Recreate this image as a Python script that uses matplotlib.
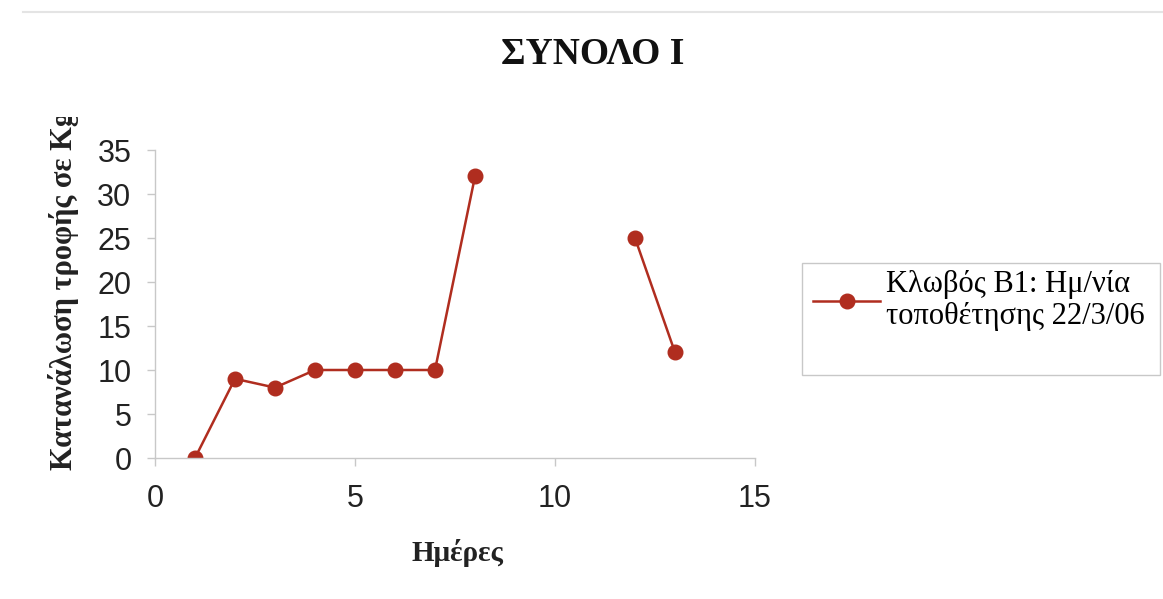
import numpy as np
import matplotlib.pyplot as plt
from matplotlib.lines import Line2D
from matplotlib.patches import Rectangle
from matplotlib.transforms import Bbox

# Daily feed consumption, cage B1 (days 9-11 not recorded)
days = [1, 2, 3, 4, 5, 6, 7, 8, 9, 10, 11, 12, 13]
feed_kg = [0, 9, 8, 10, 10, 10, 10, 32, np.nan, np.nan, np.nan, 25, 12]

series_label = "Κλωβός Β1: Ημ/νία\nτοποθέτησης 22/3/06"
title = "ΣΥΝΟΛΟ Ι"
xlabel = "Ημέρες"
ylabel = "Κατανάλωση τροφής σε Κg"

red = "#b02d1f"
grey = "#c8c8c8"
serif = "Liberation Serif"
sans = "Liberation Sans"

W, H = 1163, 599
fig = plt.figure(figsize=(W / 100, H / 100), dpi=100)
ax = fig.add_axes([155 / W, 1 - 458 / H, 600 / W, 308 / H])

ax.plot(days, feed_kg, color=red, lw=1.8, marker="o", ms=10.5,
        label=series_label)

ax.set_xlim(0, 15)
ax.set_ylim(0, 35)
ax.set_xticks([0, 5, 10, 15])
ax.set_yticks(range(0, 36, 5))
for s in ["top", "right"]:
    ax.spines[s].set_visible(False)
for s in ["left", "bottom"]:
    ax.spines[s].set_color(grey)
    ax.spines[s].set_linewidth(1.0)
ax.tick_params(colors=grey, length=6, width=1.0, labelcolor="#222222")
ax.tick_params(axis="x", pad=13)
ax.tick_params(axis="y", pad=11)
for lab in ax.get_xticklabels() + ax.get_yticklabels():
    lab.set_fontfamily(sans)
    lab.set_fontsize(22)

fig.text(593 / W, 1 - 55 / H, title, ha="center", va="center",
         fontfamily=serif, fontweight="bold", fontsize=27, color="#111111")
fig.text(457 / W, 1 - 553 / H, xlabel, ha="center", va="center",
         fontfamily=serif, fontweight="bold", fontsize=21, color="#222222")

# y label runs past the top of the chart area and gets cut there
yl = fig.text(64 / W, 1 - 470 / H, ylabel, ha="center", va="bottom",
              rotation=90, fontfamily=serif, fontweight="bold", fontsize=22,
              color="#222222")
yl.set_clip_box(Bbox.from_extents(0, 0, W, H - 117))
yl.set_clip_on(True)

# legend: frame drawn separately so it can be taller than the entry
fig.add_artist(Rectangle((802 / W, 1 - 375 / H), 358 / W, 112 / H,
                         transform=fig.transFigure, facecolor="white",
                         edgecolor=grey, lw=1.0, zorder=1))
handle = Line2D([], [], color=red, lw=1.8, marker="o", ms=10.5)
leg = fig.legend([handle], [series_label], loc="upper left",
                 bbox_to_anchor=(813 / W, 1 - 270 / H),
                 prop={"family": serif, "size": 22}, frameon=False,
                 handlelength=2.2, handletextpad=0.2, borderpad=0.0,
                 borderaxespad=0.0)
leg.set_zorder(2)
for t in leg.get_texts():
    t.set_linespacing(1.15)

# faint border line at the top of the chart
fig.add_artist(Line2D([0.02, 1.0], [1 - 12 / H, 1 - 12 / H],
                      color="#e4e4e4", lw=1.5, transform=fig.transFigure))

fig.savefig("out.png", dpi=100, facecolor="white")
